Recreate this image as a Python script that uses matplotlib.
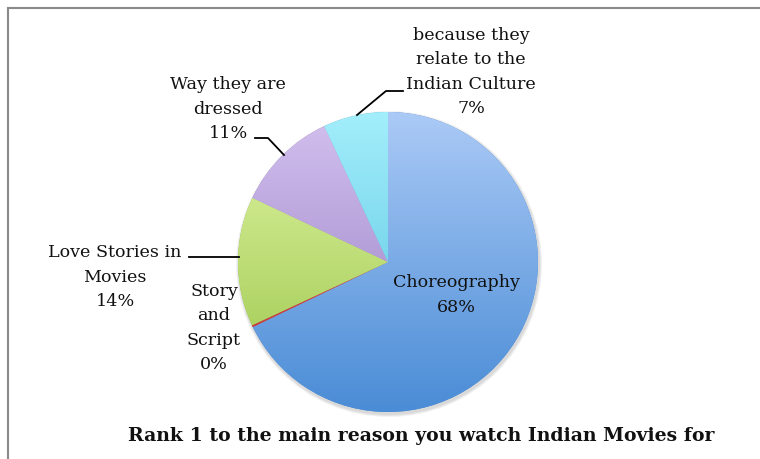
import numpy as np
import matplotlib
matplotlib.use("Agg")
import matplotlib.pyplot as plt
from matplotlib.colors import LinearSegmentedColormap
from matplotlib.lines import Line2D

categories = ["Choreography", "Story and Script", "Love Stories in Movies",
              "Way they are dressed", "because they relate to the Indian Culture"]
values = [68, 0.2, 14, 11, 7]
labels = ["Choreography\n68%", "Story\nand\nScript\n0%", "Love Stories in\nMovies\n14%",
          "Way they are\ndressed\n11%", "because they\nrelate to the\nIndian Culture\n7%"]
title = "Rank 1 to the main reason you watch Indian Movies for"

top_colors = ["#abcaf6", "#e06060", "#e2f6a6", "#d3c1ef", "#a3eefb"]
bot_colors = ["#4a8cd6", "#c03030", "#98c447", "#9479c0", "#4fbfdc"]

W, H = 760, 459
fig = plt.figure(figsize=(W / 100, H / 100), dpi=100)
ax = fig.add_axes([0, 0, 1, 1])

cx, cy, R = 388, H - 262, 150

# soft shadow
for i, a in enumerate([0.05, 0.05, 0.05]):
    ax.add_patch(plt.Circle((cx + 1, cy - 2), R + 1 + i, color="k", alpha=a, lw=0, zorder=0))

wedges, _ = ax.pie(values, center=(cx, cy), radius=R, startangle=90, counterclock=False,
                   wedgeprops=dict(linewidth=0), frame=True)
ax.set_xlim(0, W)
ax.set_ylim(0, H)
ax.set_aspect("equal")
ax.axis("off")

grad = np.linspace(0, 1, 256).reshape(-1, 1)
for w, tc, bc in zip(wedges, top_colors, bot_colors):
    cmap = LinearSegmentedColormap.from_list("g", [tc, bc])
    w.set_facecolor(bc)
    im = ax.imshow(grad, cmap=cmap, extent=(cx - R, cx + R, cy - R, cy + R),
                   origin="upper", aspect="auto", zorder=2, interpolation="bilinear")
    im.set_clip_path(w)

font = "DejaVu Serif"
fs = 12.6

def T(x, y, s, **kw):
    ax.text(x, H - y, s, ha="center", va="center", family=font, fontsize=fs,
            color="#111111", linespacing=1.55, zorder=5, **kw)

T(456, 295, labels[0])
T(214, 328, labels[1])
T(115, 277, labels[2])
T(228, 109, labels[3])
T(471, 72, labels[4])

def L(pts):
    xs = [p[0] for p in pts]
    ys = [H - p[1] for p in pts]
    ax.add_line(Line2D(xs, ys, color="k", lw=1.3, zorder=5))

L([(357, 115), (386, 91), (403, 91)])
L([(255, 138), (268, 138), (284, 155)])
L([(189, 257), (239, 257)])

ax.text(421, H - 436, title, ha="center", va="center", family=font, fontsize=13.6,
        fontweight="bold", color="#111111", zorder=5)

# frame
ax.add_line(Line2D([8, 8], [0, H - 8], color="#8a8a8a", lw=1.5, zorder=6))
ax.add_line(Line2D([8, W], [H - 8, H - 8], color="#8a8a8a", lw=1.5, zorder=6))

fig.savefig("out.png", dpi=100)
